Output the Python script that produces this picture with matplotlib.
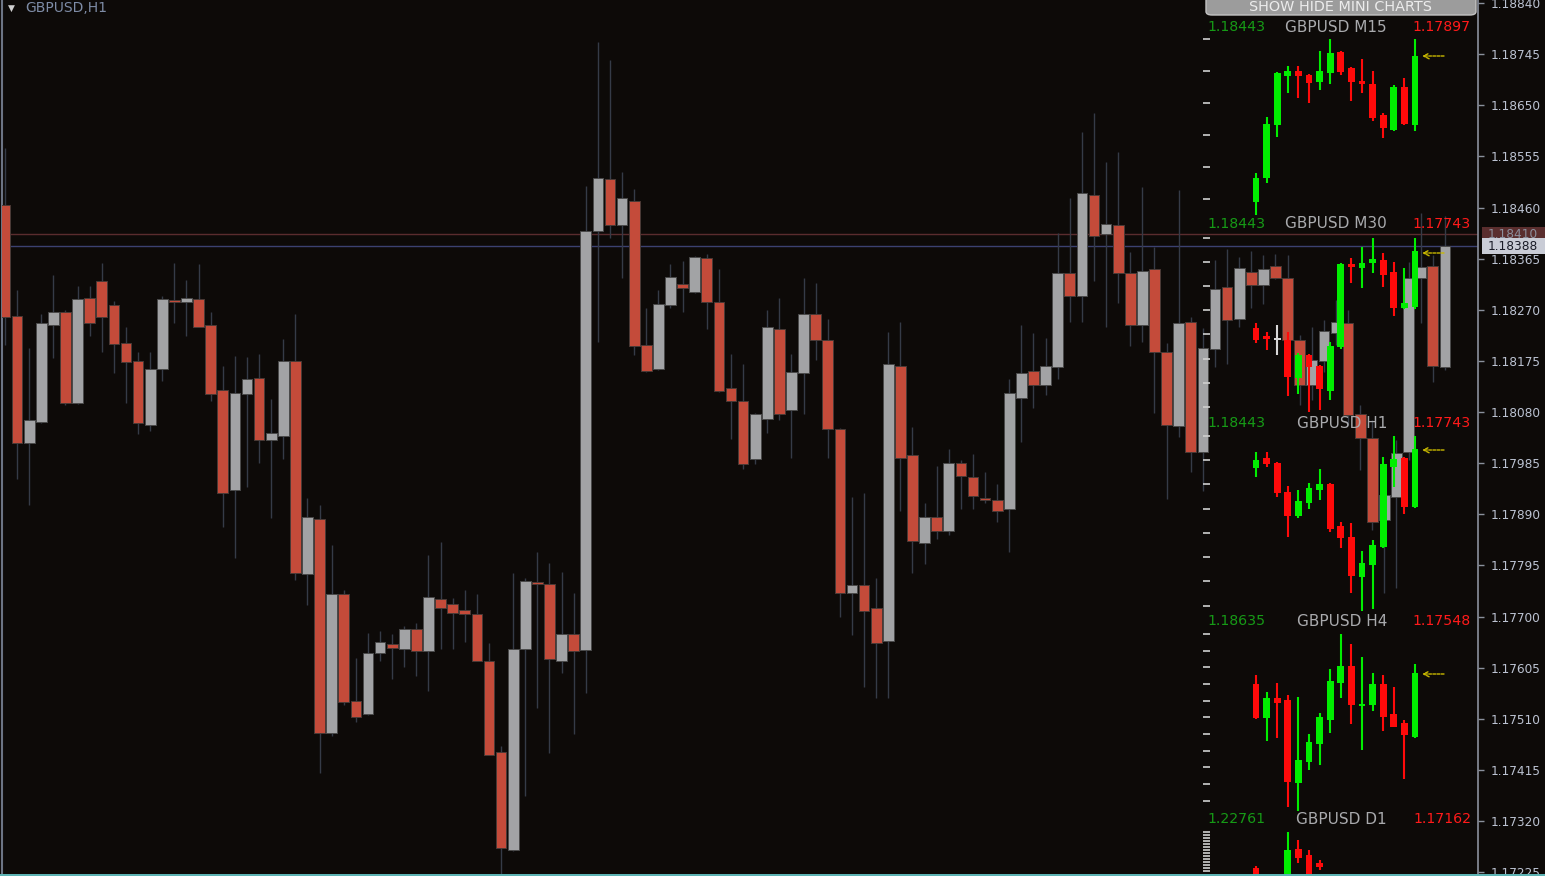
import matplotlib
matplotlib.use("Agg")
import matplotlib.pyplot as plt
import numpy as np
from matplotlib.patches import FancyBboxPatch, Rectangle

W, H = 1545, 876
BG = "#0d0a08"

# ---- main GBPUSD H1 candles (prices) ----
o = [1.18465, 1.18259, 1.18023, 1.18062, 1.18242, 1.18266, 1.18097, 1.18292, 1.18324, 1.18279,
     1.18209, 1.18175, 1.18056, 1.18160, 1.18288, 1.18285, 1.18290, 1.18242, 1.18121, 1.17935,
     1.18114, 1.18143, 1.18028, 1.18036, 1.18175, 1.17779, 1.17881, 1.17484, 1.17742, 1.17543,
     1.17519, 1.17632, 1.17649, 1.17640, 1.17677, 1.17636, 1.17733, 1.17723, 1.17712, 1.17705,
     1.17618, 1.17448, 1.17266, 1.17640, 1.17764, 1.17761, 1.17618, 1.17668, 1.17638, 1.18417,
     1.18513, 1.18428, 1.18472, 1.18205, 1.18160, 1.18279, 1.18318, 1.18303, 1.18367, 1.18285,
     1.18125, 1.18101, 1.17993, 1.18067, 1.18235, 1.18084, 1.18153, 1.18262, 1.18214, 1.18049,
     1.17744, 1.17759, 1.17716, 1.17655, 1.18166, 1.18000, 1.17837, 1.17885, 1.17859, 1.17985,
     1.17960, 1.17920, 1.17917, 1.17900, 1.18106, 1.18156, 1.18130, 1.18164, 1.18339, 1.18296,
     1.18484, 1.18411, 1.18428, 1.18339, 1.18242, 1.18346, 1.18192, 1.18054, 1.18248, 1.18006,
     1.18197, 1.18313, 1.18253, 1.18340, 1.18316, 1.18352, 1.18329, 1.18214, 1.18130, 1.18175,
     1.18227, 1.18246, 1.18077, 1.18032, 1.17880, 1.17922, 1.18006, 1.18329, 1.18352, 1.18164]
h = [1.18571, 1.18307, 1.18199, 1.18262, 1.18335, 1.18270, 1.18314, 1.18314, 1.18357, 1.18287,
     1.18238, 1.18192, 1.18192, 1.18296, 1.18357, 1.18326, 1.18355, 1.18266, 1.18166, 1.18184,
     1.18183, 1.18188, 1.18104, 1.18216, 1.18262, 1.17920, 1.17907, 1.17833, 1.17750, 1.17623,
     1.17670, 1.17673, 1.17668, 1.17683, 1.17688, 1.17815, 1.17839, 1.17735, 1.17750, 1.17742,
     1.17651, 1.17460, 1.17781, 1.17772, 1.17820, 1.17800, 1.17783, 1.17744, 1.18500, 1.18768,
     1.18734, 1.18526, 1.18495, 1.18274, 1.18307, 1.18355, 1.18361, 1.18370, 1.18374, 1.18346,
     1.18188, 1.18169, 1.18078, 1.18270, 1.18292, 1.18188, 1.18329, 1.18320, 1.18253, 1.18051,
     1.17922, 1.17930, 1.17772, 1.18229, 1.18248, 1.18052, 1.17911, 1.17980, 1.18012, 1.17991,
     1.18002, 1.17969, 1.17946, 1.18142, 1.18242, 1.18227, 1.18218, 1.18413, 1.18478, 1.18601,
     1.18636, 1.18545, 1.18563, 1.18378, 1.18498, 1.18387, 1.18209, 1.18493, 1.18257, 1.18236,
     1.18363, 1.18383, 1.18368, 1.18380, 1.18372, 1.18374, 1.18372, 1.18223, 1.18238, 1.18251,
     1.18288, 1.18270, 1.18093, 1.18065, 1.17954, 1.18028, 1.18359, 1.18450, 1.18372, 1.18445]
l = [1.18205, 1.17956, 1.17907, 1.18060, 1.18181, 1.18093, 1.18095, 1.18222, 1.18192, 1.18153,
     1.18097, 1.18039, 1.18045, 1.18138, 1.18246, 1.18222, 1.18238, 1.18101, 1.17867, 1.17809,
     1.17941, 1.17985, 1.17883, 1.17993, 1.17768, 1.17722, 1.17409, 1.17478, 1.17536, 1.17504,
     1.17517, 1.17618, 1.17584, 1.17606, 1.17590, 1.17562, 1.17640, 1.17640, 1.17653, 1.17618,
     1.17443, 1.17220, 1.17264, 1.17367, 1.17530, 1.17447, 1.17595, 1.17482, 1.17558, 1.18210,
     1.18404, 1.18329, 1.18186, 1.18155, 1.18158, 1.18274, 1.18266, 1.18301, 1.18235, 1.18117,
     1.18030, 1.17974, 1.17984, 1.18041, 1.18065, 1.17995, 1.18077, 1.18177, 1.17995, 1.17699,
     1.17666, 1.17569, 1.17549, 1.17549, 1.17896, 1.17781, 1.17798, 1.17844, 1.17852, 1.17900,
     1.17900, 1.17911, 1.17876, 1.17820, 1.18025, 1.18088, 1.18112, 1.18142, 1.18248, 1.18248,
     1.18324, 1.18238, 1.18283, 1.18203, 1.18210, 1.18078, 1.17919, 1.18034, 1.17969, 1.17933,
     1.18164, 1.18169, 1.18238, 1.18274, 1.18281, 1.18327, 1.18205, 1.18093, 1.18103, 1.18155,
     1.18205, 1.18056, 1.17972, 1.17861, 1.17744, 1.17753, 1.17991, 1.18246, 1.18136, 1.18158]
c = [1.18257, 1.18023, 1.18065, 1.18246, 1.18266, 1.18097, 1.18290, 1.18246, 1.18257, 1.18207,
     1.18173, 1.18060, 1.18160, 1.18290, 1.18285, 1.18292, 1.18238, 1.18114, 1.17930, 1.18116,
     1.18142, 1.18028, 1.18041, 1.18175, 1.17781, 1.17885, 1.17484, 1.17742, 1.17541, 1.17513,
     1.17632, 1.17653, 1.17642, 1.17677, 1.17636, 1.17736, 1.17716, 1.17707, 1.17705, 1.17618,
     1.17443, 1.17270, 1.17640, 1.17766, 1.17761, 1.17621, 1.17668, 1.17636, 1.18417, 1.18515,
     1.18428, 1.18478, 1.18203, 1.18156, 1.18281, 1.18331, 1.18311, 1.18368, 1.18285, 1.18119,
     1.18101, 1.17984, 1.18077, 1.18238, 1.18077, 1.18155, 1.18262, 1.18214, 1.18049, 1.17744,
     1.17759, 1.17710, 1.17651, 1.18169, 1.17995, 1.17841, 1.17885, 1.17859, 1.17985, 1.17961,
     1.17924, 1.17917, 1.17896, 1.18116, 1.18153, 1.18130, 1.18166, 1.18339, 1.18296, 1.18487,
     1.18407, 1.18430, 1.18339, 1.18242, 1.18342, 1.18192, 1.18056, 1.18246, 1.18006, 1.18199,
     1.18309, 1.18251, 1.18348, 1.18316, 1.18346, 1.18329, 1.18214, 1.18130, 1.18177, 1.18231,
     1.18248, 1.18075, 1.18032, 1.17876, 1.17926, 1.18004, 1.18329, 1.18350, 1.18166, 1.18388]

ask_price = 1.18410
bid_price = 1.18388
price_ticks = [1.18840, 1.18745, 1.18650, 1.18555, 1.18460, 1.18365, 1.18270, 1.18175, 1.18080,
               1.17985, 1.17890, 1.17795, 1.17700, 1.17605, 1.17510, 1.17415, 1.17320, 1.17225]

# ---- mini charts (no price scale shown: relative levels) ----
mini_titles = ["GBPUSD M15", "GBPUSD M30", "GBPUSD H1", "GBPUSD H4", "GBPUSD D1"]
mini_hi = ["1.18443", "1.18443", "1.18443", "1.18635", "1.22761"]
mini_lo = ["1.17897", "1.17743", "1.17743", "1.17548", "1.17162"]

m15_o = [11, 35, 88, 137, 142, 138, 131, 140, 161, 145, 132, 129, 98, 83, 126, 88]
m15_h = [40, 96, 141, 147, 147, 139, 162, 174, 162, 146, 154, 142, 100, 128, 135, 174]
m15_l = [-2, 30, 76, 120, 115, 110, 123, 129, 138, 112, 120, 92, 75, 82, 88, 82]
m15_c = [35, 89, 140, 142, 137, 130, 142, 160, 141, 131, 129, 95, 85, 126, 89, 157]

m30_o = [84, 76, 72, 72, 34, 57, 46, 21, 65, 148, 144, 149, 152, 140, 104, 105]
m30_h = [89, 80, 87, 80, 59, 58, 47, 70, 149, 154, 165, 174, 159, 150, 144, 174]
m30_l = [69, 62, 57, 16, 18, 0, 2, 12, 63, 129, 124, 139, 125, 96, 103, 103]
m30_c = [72, 73, 72, 35, 57, 45, 23, 66, 148, 145, 149, 153, 137, 104, 109, 161]

h1_o = [142, 152, 147, 118, 94, 107, 120, 126, 84, 73, 33, 45, 63, 143, 152, 103]
h1_h = [158, 158, 148, 124, 120, 127, 141, 127, 88, 87, 59, 70, 153, 174, 153, 174]
h1_l = [133, 143, 113, 73, 92, 101, 110, 78, 62, 17, -1, 1, 62, 123, 96, 102]
h1_c = [150, 146, 117, 94, 109, 122, 126, 81, 72, 34, 47, 65, 146, 151, 103, 161]

h4_o = [124, 90, 110, 108, 25, 46, 64, 88, 125, 142, 102, 103, 124, 94, 85, 71]
h4_h = [133, 116, 125, 113, 111, 74, 95, 139, 174, 164, 151, 135, 133, 121, 88, 144]
h4_l = [89, 67, 70, 1, -3, 38, 43, 75, 110, 84, 58, 97, 77, 81, 29, 70]
h4_c = [90, 110, 105, 26, 48, 66, 91, 127, 142, 103, 104, 124, 91, 81, 73, 135]

d1_pos = [0, 3, 4, 5, 6]
d1_o = [138, 100, 157, 151, 143]
d1_h = [140, 174, 166, 156, 146]
d1_l = [90, 90, 143, 100, 136]
d1_c = [100, 156, 148, 110, 139]

fig = plt.figure(figsize=(W / 100, H / 100), dpi=100, facecolor=BG)


def box(x0, y0, x1, y1):
    """pixel box (top-left origin) -> figure rect"""
    return [x0 / W, 1 - y1 / H, (x1 - x0) / W, (y1 - y0) / H]


# ---- main chart ----
ax = fig.add_axes(box(2, 0, 1478, 874))
ax.set_facecolor(BG)
step, x0px = 12.1, 5
ax.set_xlim((2 - x0px) / step, (1478 - x0px) / step)
ax.set_ylim(1.172217, 1.188456)

o, h, l, c = map(np.array, (o, h, l, c))
x = np.arange(len(o))
up = c >= o
ax.axhline(ask_price, color="#5a2c2e", lw=1.0, zorder=1)
ax.axhline(bid_price, color="#3b4170", lw=1.0, zorder=1)
ax.vlines(x, l, h, color="#353b47", lw=1.0, zorder=2)
ax.bar(x[up], (c - o)[up], bottom=o[up], width=0.88, color="#a2a3a5",
       edgecolor="#4a4a4a", lw=0.7, zorder=3)
ax.bar(x[~up], (o - c)[~up], bottom=c[~up], width=0.88, color="#c44b3a",
       edgecolor="#4a3a36", lw=0.7, zorder=3)

for s in ("top", "bottom"):
    ax.spines[s].set_visible(False)
ax.spines["left"].set_color("#6c7484")
ax.spines["left"].set_linewidth(1.5)
ax.spines["right"].set_color("#8a909c")
ax.spines["right"].set_linewidth(1.2)
ax.set_xticks([])
ax.yaxis.tick_right()
ax.set_yticks(price_ticks)
ax.set_yticklabels([f"{v:.5f}" for v in price_ticks])
ax.tick_params(axis="y", colors="#8a909c", labelcolor="#bcc3d2", labelsize=8.7,
               length=4, width=1, pad=5)

# price tags on the right scale
tag_tr = ax.get_yaxis_transform()
ax.add_patch(Rectangle((1.003, ask_price - 0.00013), 0.05, 0.00026, transform=tag_tr,
                       fc="#5a2e2e", ec="none", clip_on=False, zorder=9))
ax.text(1.0068, ask_price, "1.18410", transform=tag_tr, ha="left", va="center",
        fontsize=8.7, color="#8c8f9c", clip_on=False, zorder=10)
ax.add_patch(Rectangle((1.003, bid_price - 0.00015), 0.05, 0.0003, transform=tag_tr,
                       fc="#c9ccd6", ec="none", clip_on=False, zorder=11))
ax.text(1.0068, bid_price, "1.18388", transform=tag_tr, ha="left", va="center",
        fontsize=8.7, color="#1a1c28", clip_on=False, zorder=12)

# ---- mini charts ----
panels = [
    (16, 213, m15_o, m15_h, m15_l, m15_c, None, [174, 142, 110, 78, 46, 14], 157),
    (213, 412, m30_o, m30_h, m30_l, m30_c, None, [174, 150, 126, 102, 78, 53, 29, 5], 159),
    (412, 610, h1_o, h1_h, h1_l, h1_c, None, [174, 150, 126, 101, 77, 53, 29, 4], 160),
    (610, 808, h4_o, h4_h, h4_l, h4_c, None, [174, 157, 141, 124, 107, 91, 74, 57, 41, 24, 7], 134),
    (808, 1006, d1_o, d1_h, d1_l, d1_c, d1_pos, list(range(174, 132, -3)), None),
]
mstep, mx0 = 10.6, 1256
for k, (top, base, mo, mh, ml, mc, pos, ticks, arrow) in enumerate(panels):
    vis_bottom = min(base, 874)
    m = fig.add_axes(box(1203, top, 1478, vis_bottom))
    m.patch.set_alpha(0)
    for s in m.spines.values():
        s.set_visible(False)
    m.set_xlim((1203 - mx0) / mstep, (1478 - mx0) / mstep)
    m.set_ylim(base - vis_bottom, base - top)
    mo, mh, ml, mc = map(np.array, (mo, mh, ml, mc))
    mxs = np.arange(len(mo)) if pos is None else np.array(pos)
    clip = pos is not None
    cols = np.where(mc > mo, "#00ee00", np.where(mc < mo, "#ff0a0a", "#d8d8d8"))
    m.vlines(mxs, ml, mh, colors=cols, lw=1.5, clip_on=clip, zorder=4)
    m.bar(mxs, np.maximum(np.abs(mc - mo), 2.5), bottom=np.minimum(mo, mc),
          width=0.66, color=cols, lw=0, clip_on=clip, zorder=5)
    m.set_xticks([])
    m.set_yticks(ticks)
    m.set_yticklabels([])
    m.tick_params(axis="y", direction="in", length=5, width=1.2, color="#cfcfcf",
                  left=True)
    if arrow is not None:
        m.annotate("", xy=((1422 - mx0) / mstep, arrow), xytext=((1444 - mx0) / mstep, arrow),
                   arrowprops=dict(arrowstyle="->", color="#c8b800", lw=1.0, ls=(0, (2, 1)),
                                   shrinkA=0, shrinkB=0), annotation_clip=False)
    hy = 1 - (top + 11) / H
    fig.text(1207 / W, hy, mini_hi[k], color="#169a16", fontsize=10.2, ha="left", va="center")
    fig.text(1387 / W, hy, mini_titles[k], color="#a9aaad", fontsize=11, ha="right", va="center")
    fig.text(1471 / W, hy, mini_lo[k], color="#ff1a1a", fontsize=10.2, ha="right", va="center")

# ---- button, title, border ----
fig.patches.append(FancyBboxPatch((1206 / W, 1 - 15 / H), 270 / W, 20 / H,
                                  boxstyle="round,pad=0,rounding_size=0.004",
                                  transform=fig.transFigure, fc="#9c9c9c", ec="#c4c4c4",
                                  lw=1, zorder=20))
fig.text(1340 / W, 1 - 7 / H, "SHOW HIDE MINI CHARTS", color="#ececec", fontsize=10.4,
         ha="center", va="center", zorder=21)
fig.text(8 / W, 1 - 8 / H, "\u25bc", color="#d0d0d0", fontsize=6.5, ha="left", va="center")
fig.text(25 / W, 1 - 8 / H, "GBPUSD,H1", color="#7e8ca6", fontsize=10, ha="left", va="center")
fig.patches.append(Rectangle((0, 0), 1, 2 / H, transform=fig.transFigure,
                             fc="#5cb3b3", ec="none", zorder=20))

fig.savefig("out.png", dpi=100, facecolor=BG)
